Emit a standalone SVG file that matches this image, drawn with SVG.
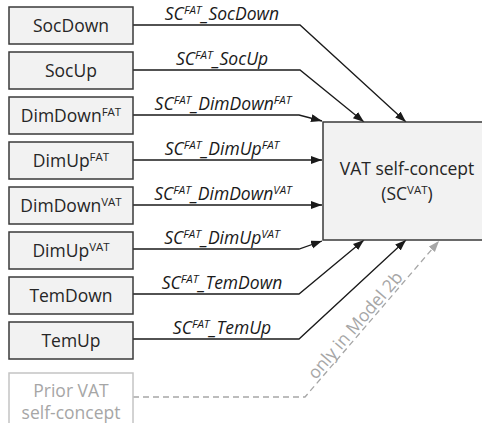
<svg xmlns="http://www.w3.org/2000/svg" width="482" height="423" viewBox="0 0 482 423">
<style>
  .box { fill: #f2f2f2; stroke: #3a3a3a; stroke-width: 1.5; }
  .pbox { fill: #ffffff; stroke: #c4c4c4; stroke-width: 1.5; }
  .nt { font-family: "Open Sans", "Liberation Sans", sans-serif; font-size: 17.5px; fill: #262626; text-anchor: middle; }
  .pt { font-family: "Open Sans", "Liberation Sans", sans-serif; font-size: 17.5px; fill: #a6a6a6; text-anchor: middle; }
  .lb { font-family: "Open Sans", "Liberation Sans", sans-serif; font-size: 17.5px; font-style: italic; fill: #1a1a1a; text-anchor: middle; }
  .sup { font-size: 11.5px; }
  .edge { fill: none; stroke: #1a1a1a; stroke-width: 1.3; marker-end: url(#ah); }
  .dedge { fill: none; stroke: #a6a6a6; stroke-width: 1.3; stroke-dasharray: 6 4; marker-end: url(#ahg); }
</style>
<defs>
  <marker id="ah" markerUnits="userSpaceOnUse" markerWidth="12" markerHeight="10" refX="11" refY="4" orient="auto">
    <path d="M0,0 L11,4 L0,8 Z" fill="#1a1a1a"/>
  </marker>
  <marker id="ahg" markerUnits="userSpaceOnUse" markerWidth="12" markerHeight="10" refX="11" refY="4" orient="auto">
    <path d="M0,0 L11,4 L0,8 Z" fill="#a6a6a6"/>
  </marker>
</defs>
<rect width="482" height="423" fill="#ffffff"/>

<g id="connectors">
  <polyline class="edge" points="133,25 300,25 406,122"/>
  <polyline class="edge" points="133,70 300,70 364,122"/>
  <polyline class="edge" points="133,115 299,115 322,121"/>
  <polyline class="edge" points="133,160 322,160"/>
  <polyline class="edge" points="133,205 322,205"/>
  <polyline class="edge" points="133,249 299,249 322,241"/>
  <polyline class="edge" points="133,294 299,294 364,240"/>
  <polyline class="edge" points="133,339 299,339 406,240"/>
  <polyline class="dedge" points="133,397 305,397 439,241"/>
  <text class="lb" x="222" y="20">SC<tspan class="sup" dy="-6">FAT</tspan><tspan dy="6">_SocDown</tspan></text>
  <text class="lb" x="222" y="65">SC<tspan class="sup" dy="-6">FAT</tspan><tspan dy="6">_SocUp</tspan></text>
  <text class="lb" x="223" y="110">SC<tspan class="sup" dy="-6">FAT</tspan><tspan dy="6">_DimDown</tspan><tspan class="sup" dy="-6">FAT</tspan></text>
  <text class="lb" x="222" y="155">SC<tspan class="sup" dy="-6">FAT</tspan><tspan dy="6">_DimUp</tspan><tspan class="sup" dy="-6">FAT</tspan></text>
  <text class="lb" x="223" y="200">SC<tspan class="sup" dy="-6">FAT</tspan><tspan dy="6">_DimDown</tspan><tspan class="sup" dy="-6">VAT</tspan></text>
  <text class="lb" x="222" y="244">SC<tspan class="sup" dy="-6">FAT</tspan><tspan dy="6">_DimUp</tspan><tspan class="sup" dy="-6">VAT</tspan></text>
  <text class="lb" x="222" y="289">SC<tspan class="sup" dy="-6">FAT</tspan><tspan dy="6">_TemDown</tspan></text>
  <text class="lb" x="222" y="334">SC<tspan class="sup" dy="-6">FAT</tspan><tspan dy="6">_TemUp</tspan></text>
  <text class="pt" transform="translate(362,331) rotate(-49.3)" x="0" y="-3">only in Model 2b</text>
</g>

<g id="n-socdown"><rect class="box" x="9" y="7" width="124" height="37"/><text class="nt" x="71" y="32">SocDown</text></g>
<g id="n-socup"><rect class="box" x="9" y="52" width="124" height="37"/><text class="nt" x="71" y="77">SocUp</text></g>
<g id="n-dimdownfat"><rect class="box" x="9" y="97" width="124" height="37"/><text class="nt" x="71" y="122">DimDown<tspan class="sup" dy="-6">FAT</tspan></text></g>
<g id="n-dimupfat"><rect class="box" x="9" y="142" width="124" height="37"/><text class="nt" x="71" y="167">DimUp<tspan class="sup" dy="-6">FAT</tspan></text></g>
<g id="n-dimdownvat"><rect class="box" x="9" y="187" width="124" height="37"/><text class="nt" x="71" y="212">DimDown<tspan class="sup" dy="-6">VAT</tspan></text></g>
<g id="n-dimupvat"><rect class="box" x="9" y="232" width="124" height="37"/><text class="nt" x="71" y="257">DimUp<tspan class="sup" dy="-6">VAT</tspan></text></g>
<g id="n-temdown"><rect class="box" x="9" y="277" width="124" height="37"/><text class="nt" x="71" y="302">TemDown</text></g>
<g id="n-temup"><rect class="box" x="9" y="322" width="124" height="37"/><text class="nt" x="71" y="347">TemUp</text></g>
<g id="n-prior"><rect class="pbox" x="9" y="373" width="124" height="60"/><text class="pt" x="71" y="397">Prior VAT</text><text class="pt" x="71" y="419">self-concept</text></g>
<g id="n-vat"><rect class="box" x="323" y="122" width="170" height="118"/><text class="nt" x="407" y="175">VAT self-concept</text><text class="nt" x="407" y="200">(SC<tspan class="sup" dy="-6">VAT</tspan><tspan dy="6">)</tspan></text></g>
</svg>
